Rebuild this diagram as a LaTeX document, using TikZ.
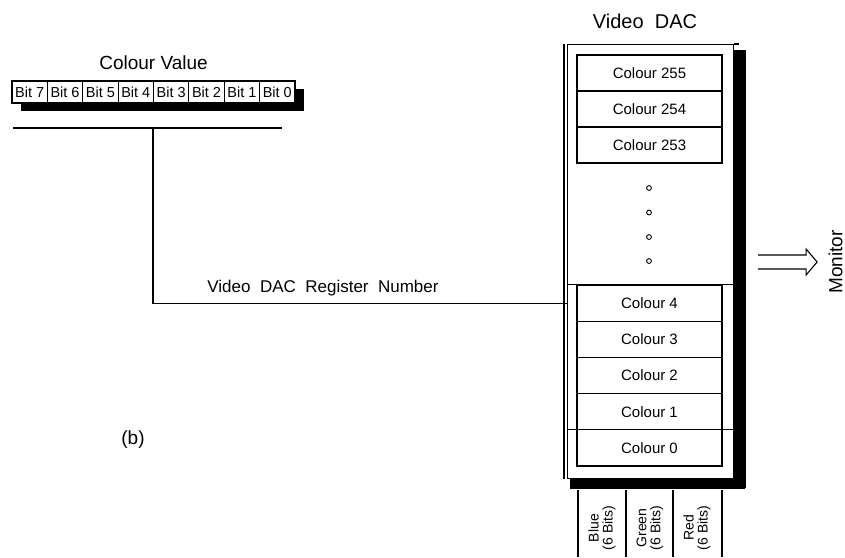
\documentclass[tikz,border=0pt]{standalone}
\usepackage{fontspec}
\setmainfont{Liberation Sans}
\usetikzlibrary{arrows.meta}
\newcommand{\fsz}[1]{\fontsize{#1pt}{#1pt}\selectfont}

\begin{document}
\begin{tikzpicture}[
  x=1pt, y=-1pt, line width=1.1pt,
  bitbox/.style={draw, fill=white, minimum width=35.375pt, minimum height=22pt, inner sep=0pt, font=\fsz{14.5}},
  entry/.style={draw, fill=white, minimum width=145pt, minimum height=36pt, inner sep=0pt, font=\fsz{15}},
  field/.style={rotate=90, align=center, font=\fsz{14}, inner sep=0pt},
  title/.style={font=\fsz{19}},
]
\useasboundingbox (0,0) rectangle (845,557);

% ── colour value: the eight bits ─────────────────────────────────────
\node[title] (cvt) at (153.5,63) {Colour Value};
\fill (21,89) rectangle (304,111);
\foreach \i [evaluate=\i as \bitno using int(7-\i)] in {0,...,7}
  \node[bitbox] (bit\bitno) at (29.69+35.375*\i,92) {Bit \bitno};
\coordinate (ul-l) at (13,128);
\coordinate (ul-r) at (282,128);
\draw[line width=2pt] (ul-l) -- (ul-r);

% ── video DAC ────────────────────────────────────────────────────────
\node[title, font=\fsz{20}] (dact) at (645,21) {Video\ \ DAC};
\node[draw, minimum width=166pt, minimum height=434pt, inner sep=0pt, anchor=north west] (dac) at (567,44) {};
\draw (dac.north east) -- ++(5,0);
\draw ([xshift=-3pt]dac.north west) -- ([xshift=-3pt]dac.south west);
\fill (dac.north east) ++(0,6) rectangle ++(12,438);
\fill (dac.south west) ++(3,0) rectangle ++(175,10);

\foreach \n/\y in {255/73, 254/109, 253/145}
  \node[entry] (c\n) at (649.5,\y) {Colour \n};
\foreach \n/\y in {4/303.1, 3/339.3, 2/375.5, 1/411.7, 0/447.9}
  \node[entry, minimum height=36.2pt] (c\n) at (649.5,\y) {Colour \n};
\draw (dac.west |- c4.north) -- (dac.east |- c4.north);
\draw (dac.west |- c0.north) -- (dac.east |- c0.north);
\foreach \y in {188,212.5,237,261}
  \draw[line width=0.9pt] (649,\y) circle (2.4pt);

% ── colour fields ────────────────────────────────────────────────────
\foreach \x in {578,626,673,722}
  \draw (\x,490) -- (\x,557);
\node[field] (blue) at (602,528) {Blue\\(6 Bits)};
\node[field] (green) at (650,528) {Green\\(6 Bits)};
\node[field] (red) at (697,528) {Red\\(6 Bits)};

% ── register number ──────────────────────────────────────────────────
\draw (bit3.south west |- ul-l) |- (dac.west |- c4);
\node[font=\fsz{17}] (regn) at (323,288) {Video\ \ DAC\ \ Register\ \ Number};

% ── monitor ──────────────────────────────────────────────────────────
\node[rotate=90, font=\fsz{19}] (mon) at (835.5,262) {Monitor};
\coordinate (ar) at ([xshift=24pt]dac.east |- mon.center);
\draw[line join=miter] (ar) ++(0,-7) -- ++(48,0) -- ++(0,-6) -- ++(11,13)
  -- ++(-11,13) -- ++(0,-6) -- ++(-48,0);

\node[font=\fsz{19}] (lbl) at (133,440) {(b)};

\end{tikzpicture}
\end{document}
